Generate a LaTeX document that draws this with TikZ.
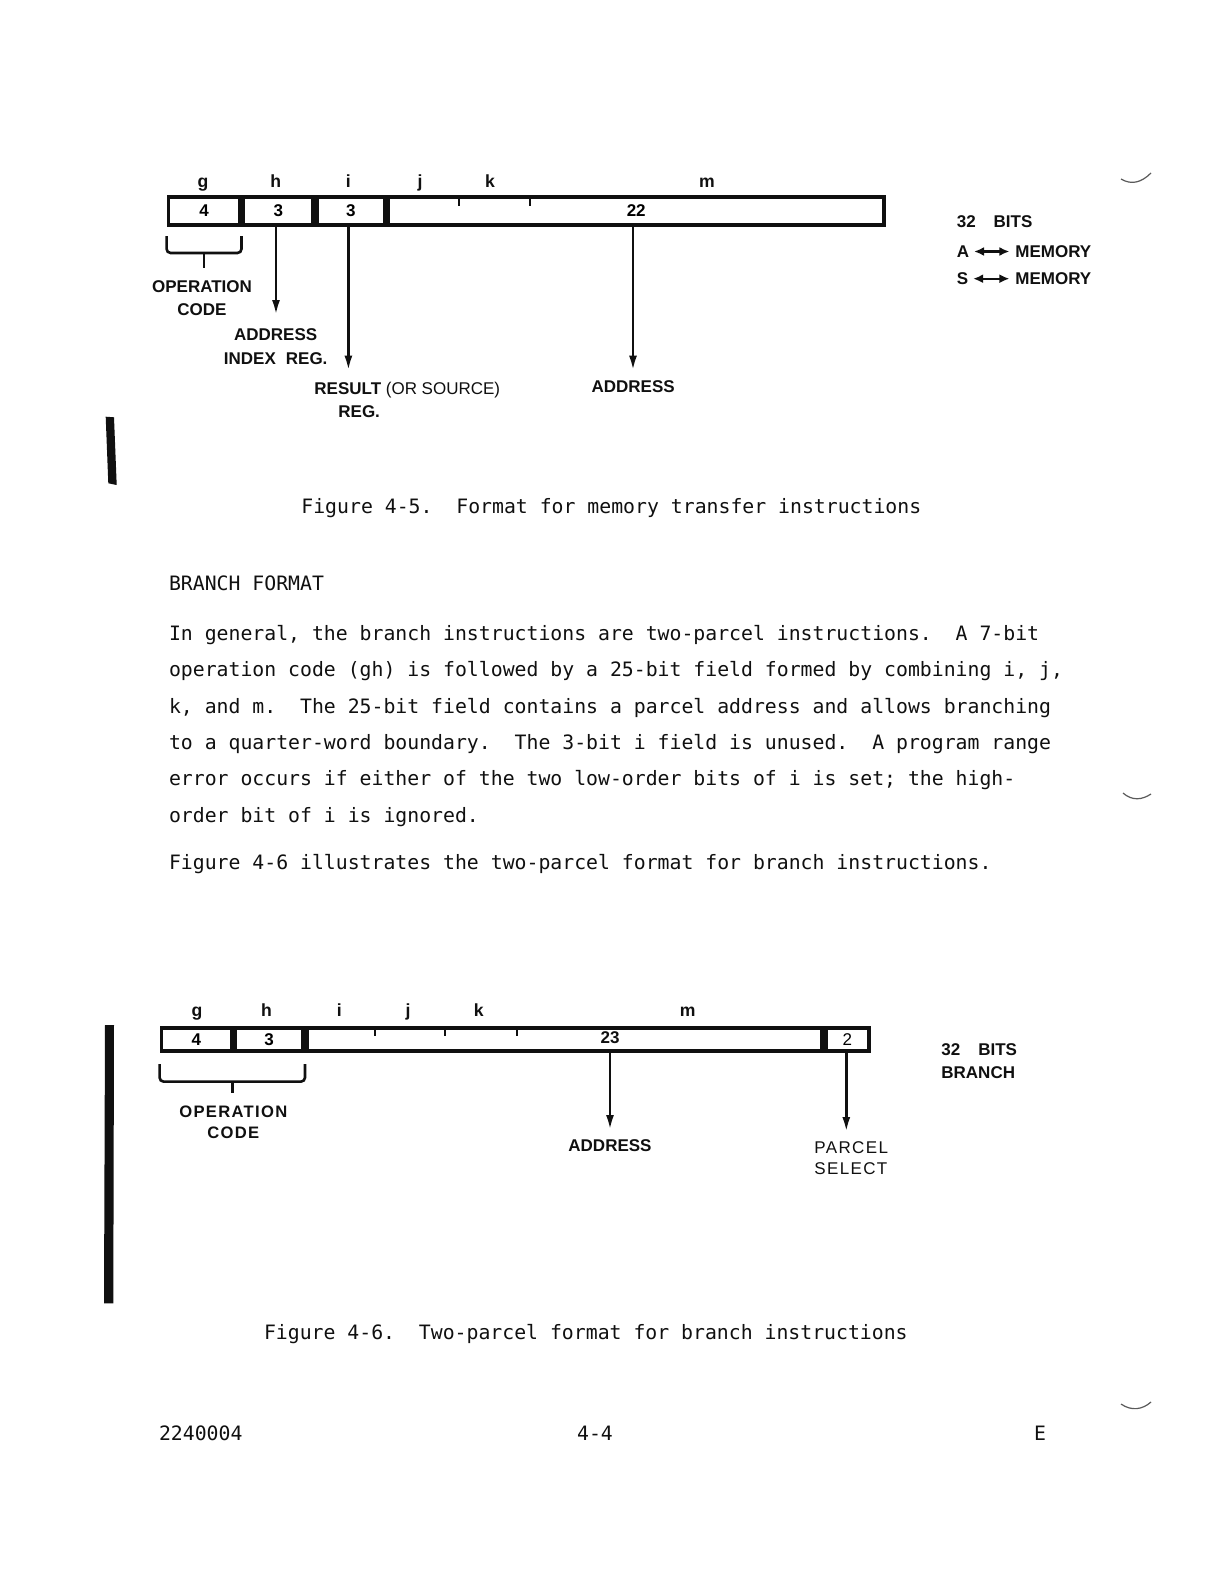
\documentclass[tikz,border=0pt]{standalone}
\usepackage{fontspec}
\usepackage{tikz}
\usetikzlibrary{arrows.meta,calc,positioning}
\newfontfamily\letramaquina{DejaVu Sans Mono}
\newfontfamily\letrarotulo{Liberation Sans}
\newfontfamily\letrarotuloancha[LetterSpace=8]{Liberation Sans}
\definecolor{negro}{HTML}{101010}
\definecolor{sombra}{HTML}{5A5A5A}
\tikzset{
  campo/.style={draw=negro,line width=1.8pt,inner sep=0pt,minimum height=14.2pt,font=\letrarotulo\bfseries\fontsize{8.5}{10}\selectfont},
  campob/.style={campo,minimum height=11.7pt},
  numero/.style={font=\letrarotulo\bfseries\fontsize{8.5}{10}\selectfont,inner sep=0pt,text=negro},
  marca/.style={draw=negro,line width=1pt},
  flecha/.style={draw=negro,line width=1.3pt,-{Latex[length=7.5pt,width=4pt]}},
  doble/.style={draw=negro,line width=1.2pt,{Latex[length=5pt,width=4.5pt]}-{Latex[length=5pt,width=4.5pt]},shorten <=2.3pt,shorten >=2.8pt},
  llave/.style={draw=negro,line width=1.3pt,rounded corners=2pt},
  letra/.style={font=\letrarotulo\bfseries\fontsize{8.8}{10}\selectfont,inner sep=0pt,text=negro,anchor=base},
  rotulo/.style={font=\letrarotulo\bfseries\fontsize{8.5}{11.5}\selectfont,inner sep=0pt,text=negro,align=center},
  rotulofino/.style={font=\letrarotuloancha\fontsize{8.5}{10.5}\selectfont,inner sep=0pt,text=negro,align=center},
  texto/.style={font=\letramaquina\fontsize{9.9}{18}\selectfont\frenchspacing,inner sep=0pt,anchor=base west,text=negro},
  barra/.style={fill=negro},
  mancha/.style={draw=sombra,line width=0.6pt},
}

\begin{document}
\begin{tikzpicture}[x=0.5pt,y=-0.5pt]
\path[use as bounding box,fill=white] (0,0) rectangle (1224,1584);
% figure 4-5
\node[letra] (lg) at (203,187.5) {g};
\node[letra] (lh) at (275.7,187.5) {h};
\node[letra] (li) at (348.4,187.5) {i};
\node[letra] (lj) at (420,187.5) {j};
\node[letra] (lk) at (490,187.5) {k};
\node[letra] (lm) at (707,187.5) {m};
\node[campo,minimum width=35.65pt,anchor=north west] (fg) at (166.6,195) {4};
\node[campo,minimum width=34.95pt,right=0pt of fg] (fh) {3};
\node[campo,minimum width=34.05pt,right=0pt of fh] (fi) {3};
\node[campo,minimum width=247.7pt,right=0pt of fi] (fm) {22};
\coordinate (tj) at (459,200);
\coordinate (tk) at (530,200);
\draw[marca] (fm.north -| tj) -- ++(0,11);
\draw[marca] (fm.north -| tk) -- ++(0,11);
\draw[llave] ($(fg.south west)+(0,9)$) |- ($(fg.south east)+(0,26)$) -- ($(fg.south east)+(0,9)$);
\draw[llave] ($(fg.south)+(0,26)$) -- ($(fg.south)+(0,41)$);
\node[rotulo] (codop) at (202,298.5) {OPERATION\\CODE};
\coordinate (pindice) at (276,315);
\coordinate (presult) at (348.4,370.6);
\coordinate (pdir) at (633,370.6);
\draw[flecha] (fh.south -| pindice) -- (pindice);
\draw[flecha] (fi.south -| presult) -- (presult);
\draw[flecha] (fm.south -| pdir) -- (pdir);
\node[rotulo,font=\letrarotulo\bfseries\fontsize{8.5}{12}\selectfont] (indice) at (275.7,346.4) {ADDRESS\\INDEX\hspace{5pt}REG.};
\node[rotulo,align=left,anchor=north west] (resultado) at (314,381.5) {RESULT {\mdseries (OR SOURCE)}\\\hspace{12pt}REG.};
\node[rotulo] (direccion) at (633.2,386.8) {ADDRESS};
\node[rotulo,anchor=west] (bits) at (956.4,221.2) {32\hspace{9pt}BITS};
\node[rotulo,anchor=west] (regA) at (956.4,251.5) {A};
\node[rotulo,anchor=west] (memA) at (1015,251.5) {MEMORY};
\node[rotulo,anchor=west] (regS) at (956.4,278.7) {S};
\node[rotulo,anchor=west] (memS) at (1015,278.7) {MEMORY};
\draw[doble] (regA.east) -- (memA.west);
\draw[doble] (regS.east) -- (memS.west);
\fill[barra] (105.7,416.7) -- (114,417.3) -- (116.7,485) -- (108.3,483.3) -- cycle;
\node[texto] (pie1) at (301,513) {Figure 4-5.~ Format for memory transfer instructions};
% text
\node[texto] (titulo) at (168.6,590) {BRANCH FORMAT};
\node[texto] (linea1) at (168.6,640.2) {In general, the branch instructions are two-parcel instructions.~ A 7-bit};
\node[texto] (linea2) at (168.6,676.6) {operation code (gh) is followed by a 25-bit field formed by combining i, j,};
\node[texto] (linea3) at (168.6,713) {k, and m.~ The 25-bit field contains a parcel address and allows branching};
\node[texto] (linea4) at (168.6,749.3) {to a quarter-word boundary.~ The 3-bit i field is unused.~ A program range};
\node[texto] (linea5) at (168.6,785.6) {error occurs if either of the two low-order bits of i is set; the high-};
\node[texto] (linea6) at (168.6,822) {order bit of i is ignored.};
\node[texto] (parrafo2) at (168.6,869.5) {Figure 4-6 illustrates the two-parcel format for branch instructions.};
% figure 4-6
\node[letra] (lg2) at (197,1016) {g};
\node[letra] (lh2) at (266.6,1016) {h};
\node[letra] (li2) at (339.3,1016) {i};
\node[letra] (lj2) at (408,1016) {j};
\node[letra] (lk2) at (478.7,1016) {k};
\node[letra] (lm2) at (687.7,1016) {m};
\node[campob,minimum width=35.05pt,anchor=north west] (fg2) at (159.6,1026) {4};
\node[campob,minimum width=34.05pt,right=0pt of fg2] (fh2) {3};
\node[campob,minimum width=257.7pt,right=0pt of fh2] (fijkm) {};
\node[campob,minimum width=21.45pt,right=0pt of fijkm,font=\letrarotulo\fontsize{8.5}{10}\selectfont] (fp) {2};
\node[numero] (n23) at (610,1038) {23};
\coordinate (ti2) at (374.7,1030);
\coordinate (tj2) at (445.4,1030);
\coordinate (tk2) at (517,1030);
\draw[marca] (fijkm.north -| ti2) -- ++(0,10);
\draw[marca] (fijkm.north -| tj2) -- ++(0,10);
\draw[marca] (fijkm.north -| tk2) -- ++(0,10);
\draw[llave] ($(fg2.south west)+(0,11)$) |- ($(fh2.south east)+(0,28.6)$) -- ($(fh2.south east)+(0,11)$);
\draw[llave] ($(fg2.south west)!0.5!(fh2.south east)+(0,28.6)$) -- ($(fg2.south west)!0.5!(fh2.south east)+(0,40)$);
\node[rotulofino,font=\letrarotuloancha\bfseries\fontsize{8.3}{10.5}\selectfont] (codop2) at (233.3,1122.5) {OPERATION\\CODE};
\coordinate (pdir2) at (610,1130);
\coordinate (pparcela) at (846.3,1132);
\draw[flecha] (fijkm.south -| pdir2) -- (pdir2);
\draw[flecha] (fp.south -| pparcela) -- (pparcela);
\node[rotulo] (direccion2) at (610,1146) {ADDRESS};
\node[rotulofino,align=left,anchor=west] (parcela) at (814,1158.2) {PARCEL\\SELECT};
\node[rotulo,align=left,anchor=west,font=\letrarotulo\bfseries\fontsize{8.5}{11.25}\selectfont] (bits2) at (941,1061.2) {32\hspace{9pt}BITS\\BRANCH};
\fill[barra] (105,1025) -- (114,1025) -- (113.3,1303.3) -- (104,1303.3) -- cycle;
\node[texto] (pie2) at (263.6,1339) {Figure 4-6.~ Two-parcel format for branch instructions};
% footer
\node[texto] (docnum) at (158.6,1440) {2240004};
\node[texto,anchor=base] (pagina) at (595,1440) {4-4};
\node[texto,anchor=base] (revision) at (1040,1440) {E};
% margin marks
\draw[mancha] (1121,179) .. controls (1131,185) and (1141,183) .. (1151,173);
\draw[mancha] (1123,793) .. controls (1132,801) and (1142,800) .. (1151,794);
\draw[mancha] (1121,1404) .. controls (1131,1411) and (1142,1410) .. (1151,1402);
\end{tikzpicture}
\end{document}
